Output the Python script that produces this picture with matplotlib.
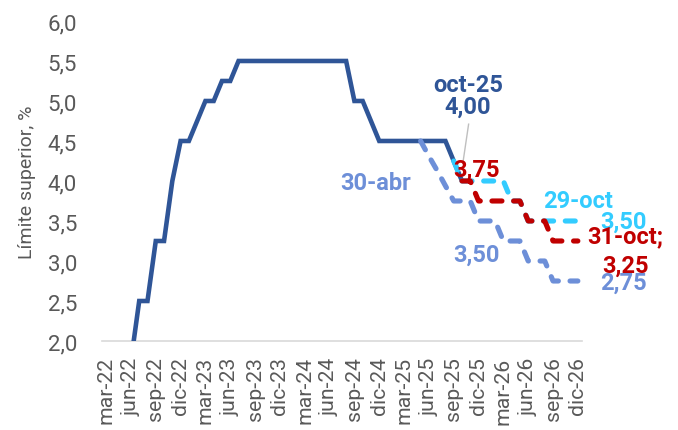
import matplotlib
matplotlib.use("Agg")
import matplotlib.pyplot as plt

plt.rcParams['font.family'] = ['Roboto', 'DejaVu Sans']
plt.rcParams['lines.scale_dashes'] = False

# ---------------- data ----------------
mes_abbr = ["ene", "feb", "mar", "abr", "may", "jun", "jul", "ago", "sep", "oct", "nov", "dic"]
months = [f"{mes_abbr[m]}-{y:02d}" for y in range(22, 27) for m in range(12)][2:]  # mar-22 .. dic-26

tick_labels = ["mar-22", "jun-22", "sep-22", "dic-22", "mar-23", "jun-23", "sep-23", "dic-23",
               "mar-24", "jun-24", "sep-24", "dic-24", "mar-25", "jun-25", "sep-25", "dic-25",
               "mar-26", "jun-26", "sep-26", "dic-26"]

# Fed funds upper limit (actual), mar-22 .. oct-25
fed_start = "mar-22"
fed_values = [0.50, 0.50, 1.00, 1.75, 2.50, 2.50, 3.25, 3.25, 4.00, 4.50,
              4.50, 4.75, 5.00, 5.00, 5.25, 5.25, 5.50,
              5.50, 5.50, 5.50, 5.50, 5.50, 5.50, 5.50, 5.50, 5.50, 5.50, 5.50, 5.50, 5.50,
              5.00, 5.00, 4.75, 4.50,
              4.50, 4.50, 4.50, 4.50, 4.50, 4.50, 4.50, 4.50,
              4.25, 4.00]

# Expected path as of 30-abr, may-25 .. dic-26
abr_start = "may-25"
abr_values = [4.50, 4.31, 4.13, 3.94, 3.75, 3.75, 3.75, 3.50, 3.50, 3.50,
              3.25, 3.25, 3.25, 3.00, 3.00, 3.00, 2.75, 2.75, 2.75, 2.75]

# Expected path as of 29-oct, sep-25 .. dic-26
oct29_start = "sep-25"
oct29_values = [4.25, 4.00, 4.00, 4.00, 4.00, 4.00, 4.00, 3.75, 3.75, 3.50,
                3.50, 3.50, 3.50, 3.50, 3.50, 3.50]

# Expected path as of 31-oct, oct-25 .. dic-26
oct31_start = "oct-25"
oct31_values = [4.00, 4.00, 3.75, 3.75, 3.75, 3.75, 3.75, 3.75, 3.50, 3.50,
                3.50, 3.25, 3.25, 3.25, 3.25]

# ---------------- style ----------------
c_dark = "#2F5597"
c_light = "#6D8FD8"
c_cyan = "#33CCFF"
c_red = "#C00000"
c_tick = "#595959"

fig = plt.figure(figsize=(6.78, 4.31), dpi=100)
ax = fig.add_axes([0.1504, 0.2065, 0.708, 0.7425])


def xs(start, vals):
    i0 = months.index(start)
    return list(range(i0, i0 + len(vals)))


ax.plot(xs(fed_start, fed_values), fed_values, color=c_dark, lw=3.3,
        solid_joinstyle='miter', solid_capstyle='butt', zorder=3)
dash = (0, (7.2, 8.4))
ax.plot(xs(abr_start, abr_values), abr_values, color=c_light, lw=3.7, linestyle=dash,
        dash_capstyle='round', dash_joinstyle='round', zorder=4)
ax.plot(xs(oct29_start, oct29_values), oct29_values, color=c_cyan, lw=3.7, linestyle=dash,
        dash_capstyle='round', dash_joinstyle='round', zorder=5)
ax.plot(xs(oct31_start, oct31_values), oct31_values, color=c_red, lw=3.7, linestyle=dash,
        dash_capstyle='round', dash_joinstyle='round', zorder=6)

ax.set_xlim(-0.5, len(months) - 0.5)
ax.set_ylim(2.0, 6.0)

ax.set_xticks([months.index(t) for t in tick_labels])
ax.set_xticklabels(tick_labels, rotation=90, fontsize=15.3, color=c_tick)
yt = [2.0 + 0.5 * k for k in range(9)]
ax.set_yticks(yt)
ax.set_yticklabels([f"{v:.1f}".replace(".", ",") for v in yt], fontsize=16, color=c_tick)
ax.tick_params(axis='both', length=0)
ax.tick_params(axis='x', pad=11)
ax.tick_params(axis='y', pad=18)

for s in ["top", "right", "left"]:
    ax.spines[s].set_visible(False)
ax.spines["bottom"].set_color("#D9D9D9")
ax.spines["bottom"].set_linewidth(1.2)
ax.spines["bottom"].set_zorder(1)

ax.set_ylabel("Límite superior, %", fontsize=14, color=c_tick, labelpad=8)

# ---------------- labels ----------------
kw = dict(ha='center', va='center', fontsize=17, fontweight='bold', zorder=10)
ax.text(43.7, 5.21, "oct-25", color=c_dark, **kw)
ax.text(43.7, 4.93, "4,00", color=c_dark, **kw)
ax.plot([43.8, 43.1], [4.71, 4.22], color="#BFBFBF", lw=1.0, zorder=7)
ax.text(44.8, 4.15, "3,75", color=c_red, **kw)
ax.text(32.6, 3.975, "30-abr", color=c_light, **kw)
ax.text(44.7, 3.09, "3,50", color=c_light, **kw)
ax.text(57.0, 3.75, "29-oct", color=c_cyan, **kw)
ax.text(62.5, 3.50, "3,50", color=c_cyan, **kw)
ax.text(62.5, 2.74, "2,75", color=c_light, **kw)
ax.text(62.7, 3.31, "31-oct;", color=c_red, **kw)
ax.text(62.7, 2.95, "3,25", color=c_red, **kw)

fig.savefig("out.png", dpi=100)
